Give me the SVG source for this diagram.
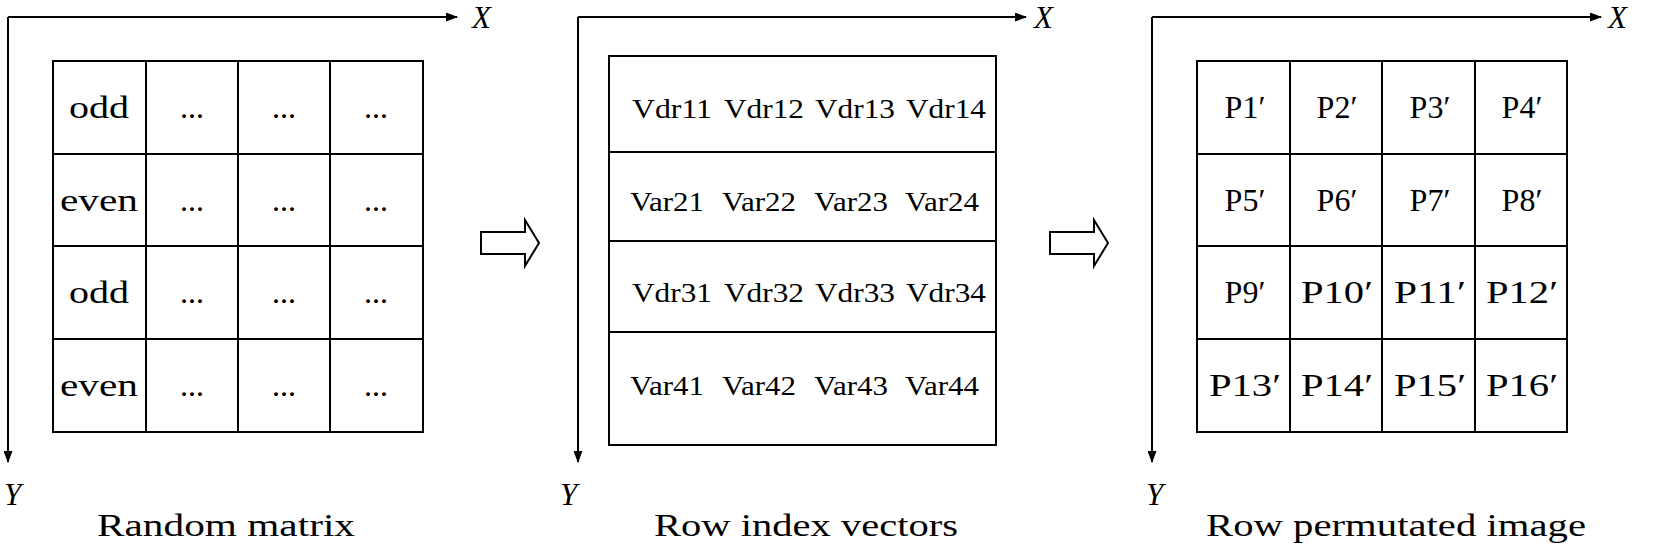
<svg xmlns="http://www.w3.org/2000/svg" width="1656" height="545" viewBox="0 0 1656 545">
<style>
.l{stroke:#000;stroke-width:2;fill:none}
.t{font-family:"Liberation Serif",serif;font-size:32px;text-anchor:middle;fill:#000}
.s{font-family:"Liberation Serif",serif;font-size:27px;text-anchor:middle;fill:#000}
.ax{font-family:"Liberation Serif",serif;font-size:31px;font-style:italic;fill:#000}
.c{font-family:"Liberation Serif",serif;font-size:32px;text-anchor:middle;fill:#000}
</style>
<defs><marker id="a" markerWidth="12" markerHeight="9" refX="11" refY="4.5" orient="auto" markerUnits="userSpaceOnUse"><path d="M0,0L12,4.5L0,9Z" fill="#000"/></marker></defs>
<g id="connectors">
<path class="l" d="M8,17H457" marker-end="url(#a)"/>
<path class="l" d="M8,17V462" marker-end="url(#a)"/>
<path class="l" d="M578,17H1026" marker-end="url(#a)"/>
<path class="l" d="M578,17V462" marker-end="url(#a)"/>
<path class="l" d="M1152,17H1601" marker-end="url(#a)"/>
<path class="l" d="M1152,17V462" marker-end="url(#a)"/>
<path class="l" d="M481,232H525V220L539,243L525,266V254H481Z" style="fill:#fff"/>
<path class="l" d="M1050,232H1094V220L1108,243L1094,266V254H1050Z" style="fill:#fff"/>
</g>
<text class="ax" x="472" y="28">X</text><text class="ax" x="4" y="505">Y</text>
<text class="ax" x="1034" y="28">X</text><text class="ax" x="560" y="505">Y</text>
<text class="ax" x="1608" y="28">X</text><text class="ax" x="1146" y="505">Y</text>
<g id="matrix">
<path class="l" d="M53,61H423V432H53Z M146,61V432 M238,61V432 M330,61V432 M53,154H423 M53,246H423 M53,339H423"/>
<text class="t" x="99" y="118" textLength="60" lengthAdjust="spacingAndGlyphs">odd</text><text class="t" x="192" y="118">...</text><text class="t" x="284" y="118">...</text><text class="t" x="376" y="118">...</text>
<text class="t" x="99" y="211" textLength="78" lengthAdjust="spacingAndGlyphs">even</text><text class="t" x="192" y="211">...</text><text class="t" x="284" y="211">...</text><text class="t" x="376" y="211">...</text>
<text class="t" x="99" y="303" textLength="60" lengthAdjust="spacingAndGlyphs">odd</text><text class="t" x="192" y="303">...</text><text class="t" x="284" y="303">...</text><text class="t" x="376" y="303">...</text>
<text class="t" x="99" y="396" textLength="78" lengthAdjust="spacingAndGlyphs">even</text><text class="t" x="192" y="396">...</text><text class="t" x="284" y="396">...</text><text class="t" x="376" y="396">...</text>
</g>
<g id="vectors">
<path class="l" d="M609,56H996V445H609Z M609,152H996 M609,241H996 M609,332H996"/>
<text class="s" x="672" y="118" textLength="80" lengthAdjust="spacingAndGlyphs">Vdr11</text><text class="s" x="764" y="118" textLength="80" lengthAdjust="spacingAndGlyphs">Vdr12</text><text class="s" x="855" y="118" textLength="80" lengthAdjust="spacingAndGlyphs">Vdr13</text><text class="s" x="946" y="118" textLength="80" lengthAdjust="spacingAndGlyphs">Vdr14</text>
<text class="s" x="667" y="211" textLength="74" lengthAdjust="spacingAndGlyphs">Var21</text><text class="s" x="759" y="211" textLength="74" lengthAdjust="spacingAndGlyphs">Var22</text><text class="s" x="851" y="211" textLength="74" lengthAdjust="spacingAndGlyphs">Var23</text><text class="s" x="942" y="211" textLength="74" lengthAdjust="spacingAndGlyphs">Var24</text>
<text class="s" x="672" y="302" textLength="80" lengthAdjust="spacingAndGlyphs">Vdr31</text><text class="s" x="764" y="302" textLength="80" lengthAdjust="spacingAndGlyphs">Vdr32</text><text class="s" x="855" y="302" textLength="80" lengthAdjust="spacingAndGlyphs">Vdr33</text><text class="s" x="946" y="302" textLength="80" lengthAdjust="spacingAndGlyphs">Vdr34</text>
<text class="s" x="667" y="395" textLength="74" lengthAdjust="spacingAndGlyphs">Var41</text><text class="s" x="759" y="395" textLength="74" lengthAdjust="spacingAndGlyphs">Var42</text><text class="s" x="851" y="395" textLength="74" lengthAdjust="spacingAndGlyphs">Var43</text><text class="s" x="942" y="395" textLength="74" lengthAdjust="spacingAndGlyphs">Var44</text>
</g>
<g id="permuted">
<path class="l" d="M1197,61H1567V432H1197Z M1290,61V432 M1382,61V432 M1475,61V432 M1197,154H1567 M1197,246H1567 M1197,339H1567"/>
<text class="t" x="1245" y="118">P1′</text><text class="t" x="1337" y="118">P2′</text><text class="t" x="1430" y="118">P3′</text><text class="t" x="1522" y="118">P4′</text>
<text class="t" x="1245" y="211">P5′</text><text class="t" x="1337" y="211">P6′</text><text class="t" x="1430" y="211">P7′</text><text class="t" x="1522" y="211">P8′</text>
<text class="t" x="1245" y="303">P9′</text><text class="t" x="1337" y="303" textLength="72" lengthAdjust="spacingAndGlyphs">P10′</text><text class="t" x="1430" y="303" textLength="72" lengthAdjust="spacingAndGlyphs">P11′</text><text class="t" x="1522" y="303" textLength="72" lengthAdjust="spacingAndGlyphs">P12′</text>
<text class="t" x="1245" y="396" textLength="72" lengthAdjust="spacingAndGlyphs">P13′</text><text class="t" x="1337" y="396" textLength="72" lengthAdjust="spacingAndGlyphs">P14′</text><text class="t" x="1430" y="396" textLength="72" lengthAdjust="spacingAndGlyphs">P15′</text><text class="t" x="1522" y="396" textLength="72" lengthAdjust="spacingAndGlyphs">P16′</text>
</g>
<text class="c" x="226" y="536" textLength="258" lengthAdjust="spacingAndGlyphs">Random matrix</text>
<text class="c" x="806" y="536" textLength="304" lengthAdjust="spacingAndGlyphs">Row index vectors</text>
<text class="c" x="1396" y="536" textLength="380" lengthAdjust="spacingAndGlyphs">Row permutated image</text>
</svg>
